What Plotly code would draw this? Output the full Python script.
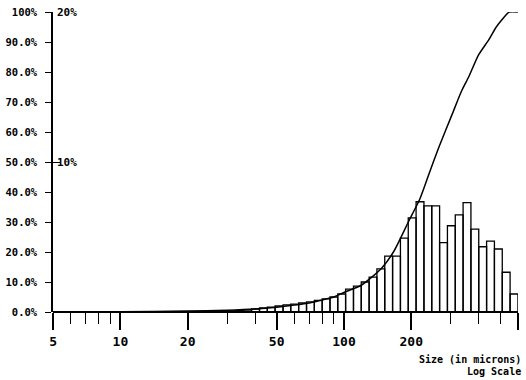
import plotly.graph_objects as go

# ---- data ----
bin_edges = [30.3, 32.9, 35.6, 38.6, 41.9, 45.4, 49.2, 53.4, 57.8, 62.7, 68.0,
             73.7, 79.9, 86.6, 93.8, 101.7, 110.3, 119.5, 129.6, 140.4, 152.2,
             165.0, 178.9, 193.9, 210.2, 227.9, 247.0, 267.8, 290.3, 314.7,
             341.1, 369.8, 400.8, 434.5, 471.0, 510.6, 553.5, 600.0]
bin_percent = [0.07, 0.1, 0.13, 0.2, 0.27, 0.33, 0.4, 0.47, 0.53, 0.6, 0.67,
               0.77, 0.87, 1.0, 1.2, 1.53, 1.73, 2.0, 2.33, 2.87, 3.73, 3.73,
               4.93, 6.27, 7.35, 7.07, 7.07, 4.62, 5.75, 6.47, 7.29, 5.53, 4.35,
               4.73, 4.2, 2.65, 1.2]

curve_size = [5, 10, 20, 30, 40, 50, 60, 70, 80, 90, 100, 120, 147, 168, 197,
              218, 240, 266, 304, 335, 362, 400, 445, 480, 510, 548, 600]
curve_cum = [0, 0.1, 0.3, 0.6, 1.0, 1.6, 2.3, 3.0, 4.0, 5.0, 6.5, 9.0, 14.5,
             20.5, 31.0, 37.5, 46.0, 55.0, 65.7, 73.5, 78.5, 85.7, 90.8, 95.0,
             97.5, 100.0, 100.0]

x_tick_vals = [5, 10, 20, 50, 100, 200, 600]
x_tick_text = ["5", "10", "20", "50", "100", "200", "600"]
x_minor_vals = [6, 7, 8, 9, 30, 40, 60, 70, 80, 90, 300, 400, 500]

left_tick_vals = [0, 10, 20, 30, 40, 50, 60, 70, 80, 90, 100]
left_tick_text = ["0.0%", "10.0%", "20.0%", "30.0%", "40.0%", "50.0%",
                  "60.0%", "70.0%", "80.0%", "90.0%", "100%"]
right_tick_vals = [10, 20]
right_tick_text = ["10%", "20%"]

# ---- build histogram outline from the bins ----
bx, by = [], []
for lo, hi, h in zip(bin_edges[:-1], bin_edges[1:], bin_percent):
    bx += [lo, lo, hi, hi, None]
    by += [0, h, h, 0, None]

fig = go.Figure()
fig.add_trace(go.Scatter(x=bx, y=by, mode="lines", yaxis="y2",
                         line=dict(color="black", width=1.3),
                         hoverinfo="skip", showlegend=False))
fig.add_trace(go.Scatter(x=curve_size, y=curve_cum, mode="lines",
                         line=dict(color="black", width=1.5, shape="spline",
                                   smoothing=0.6),
                         showlegend=False))

mono = "DejaVu Sans Mono, Liberation Mono, monospace"

annotations = [
    dict(text=t, xref="paper", yref="y2", x=0, y=v, xanchor="left",
         yanchor="middle", xshift=2, showarrow=False,
         font=dict(family=mono, size=11, color="black", weight="bold"))
    for v, t in zip(right_tick_vals, right_tick_text)
]
annotations += [
    dict(text="Size (in microns)", xref="paper", yref="paper",
         x=1.011, y=-0.157, xanchor="right", yanchor="middle",
         showarrow=False,
         font=dict(family=mono, size=10, color="black", weight="bold")),
    dict(text="Log Scale", xref="paper", yref="paper",
         x=1.011, y=-0.197, xanchor="right", yanchor="middle",
         showarrow=False,
         font=dict(family=mono, size=10, color="black", weight="bold")),
]

fig.update_layout(
    width=526, height=380,
    margin=dict(l=53, r=8, t=12, b=68, autoexpand=False),
    paper_bgcolor="white", plot_bgcolor="white",
    xaxis=dict(
        type="log", range=[0.6985, 2.7785], automargin=False,
        showgrid=False, zeroline=False,
        showline=False,
        ticks="outside", ticklen=17, tickwidth=1.5, tickcolor="black",
        tickvals=x_tick_vals, ticktext=x_tick_text,
        tickfont=dict(family=mono, size=13, color="black", weight="bold"),
        minor=dict(tickvals=x_minor_vals, ticks="outside", ticklen=11,
                   tickwidth=1.3, tickcolor="black", showgrid=False),
    ),
    yaxis=dict(
        range=[0, 100], automargin=False, showgrid=False,
        zeroline=True, zerolinecolor="black", zerolinewidth=1.5,
        showline=True, linecolor="black", linewidth=1.5,
        ticks="outside", ticklen=6, tickwidth=1.3, tickcolor="black",
        tickvals=left_tick_vals, ticktext=left_tick_text,
        ticklabelstandoff=6,
        tickfont=dict(family=mono, size=10.5, color="black", weight="bold"),
    ),
    yaxis2=dict(
        range=[0, 20], overlaying="y", side="left", anchor="x",
        automargin=False,
        showgrid=False, zeroline=False, showline=False,
        ticks="inside", ticklen=7, tickwidth=1.3, tickcolor="black",
        tickvals=right_tick_vals, showticklabels=False,
    ),
    annotations=annotations,
)

# remove the default page margin so the 526x380 figure fills the window
fig.write_html(
    "out.html",
    config={"displayModeBar": False},
    post_script="document.body.style.margin='0';"
                "document.body.style.overflow='hidden';",
)
